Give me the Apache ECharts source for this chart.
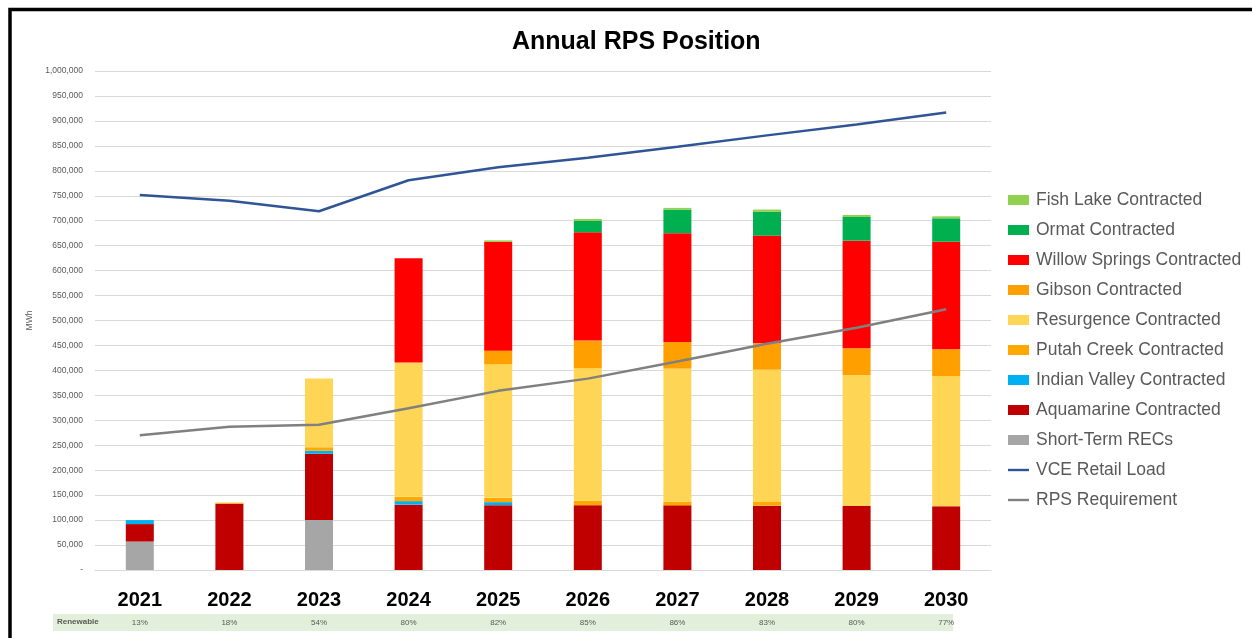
<!DOCTYPE html>
<html>
<head>
<meta charset="utf-8">
<script src="https://cdn.jsdelivr.net/npm/echarts@6/dist/echarts.min.js"></script>
<style>
html,body{margin:0;padding:0;background:#fff;}
#c{width:1252px;height:638px;}
</style>
</head>
<body>
<div id="c"></div>
<script>
const years = ['2021','2022','2023','2024','2025','2026','2027','2028','2029','2030'];
const renewablePct = ['13%','18%','54%','80%','82%','85%','86%','83%','80%','77%'];
const yTicks = { min: 0, max: 1000000, interval: 50000 };

const shortTermRECs = [57000, 0, 100000, 0, 0, 0, 0, 0, 0, 0];
const aquamarine    = [35000, 133000, 133000, 131000, 130000, 130000, 129600, 129000, 128300, 127700];
const indianValley  = [8000, 0, 6000, 7000, 6000, 0, 0, 0, 0, 0];
const putahCreek    = [0, 2000, 7000, 8600, 8600, 8700, 7300, 7400, 0, 0];
const resurgence    = [0, 0, 138000, 269000, 268000, 266000, 266600, 265000, 262500, 261000];
const gibson        = [0, 0, 0, 0, 27000, 55000, 53500, 52800, 53500, 53500];
const willowSprings = [0, 0, 0, 209000, 218000, 217000, 218000, 216000, 215700, 215700];
const ormat         = [0, 0, 0, 0, 0, 22700, 47300, 47400, 47500, 46900];
const fishLake      = [0, 0, 0, 0, 3000, 4000, 3400, 4700, 4000, 4000];

const vceRetailLoad = [751500, 740000, 719000, 781000, 807000, 826000, 848000, 871000, 893000, 917000];
const rpsRequirement = [270000, 287000, 291000, 324000, 359000, 383500, 418000, 453500, 485500, 522500];

const FONT = '"Liberation Sans", Arial, sans-serif';

const barDefs = [
  ['Short-Term RECs', shortTermRECs, '#a6a6a6'],
  ['Aquamarine Contracted', aquamarine, '#c00000'],
  ['Indian Valley Contracted', indianValley, '#00b0f0'],
  ['Putah Creek Contracted', putahCreek, '#ffa800'],
  ['Resurgence Contracted', resurgence, '#ffd555'],
  ['Gibson Contracted', gibson, '#ffa000'],
  ['Willow Springs Contracted', willowSprings, '#ff0000'],
  ['Ormat Contracted', ormat, '#00b050'],
  ['Fish Lake Contracted', fishLake, '#92d050']
];

const series = barDefs.map(([name, data, color]) => ({
  name, type: 'bar', stack: 'rps', data, barWidth: 28,
  itemStyle: { color },
  emphasis: { disabled: true }
}));
series.push({
  name: 'VCE Retail Load', type: 'line', data: vceRetailLoad, symbol: 'none',
  lineStyle: { color: '#2f5597', width: 2.5 }, itemStyle: { color: '#2f5597' }, z: 5
});
series.push({
  name: 'RPS Requirement', type: 'line', data: rpsRequirement, symbol: 'none',
  lineStyle: { color: '#808080', width: 2.5 }, itemStyle: { color: '#808080' }, z: 5
});

const LINE_ICON = 'path://M0,0 M0,3.8 L21,3.8 L21,6.2 L0,6.2 Z M21,10';
const legendOrder = ['Fish Lake Contracted','Ormat Contracted','Willow Springs Contracted','Gibson Contracted',
  'Resurgence Contracted','Putah Creek Contracted','Indian Valley Contracted','Aquamarine Contracted',
  'Short-Term RECs','VCE Retail Load','RPS Requirement'];
const legendData = legendOrder.map(n => (n === 'VCE Retail Load' || n === 'RPS Requirement')
  ? { name: n, icon: LINE_ICON, itemStyle: { borderWidth: 0 } }
  : { name: n, icon: 'rect' });

const chart = echarts.init(document.getElementById('c'), null, { renderer: 'canvas' });
chart.setOption({
  animation: false,
  backgroundColor: '#ffffff',
  title: {
    text: 'Annual RPS Position', left: 512, top: 30, padding: 0,
    textStyle: { fontFamily: FONT, fontSize: 25, fontWeight: 'bold', color: '#000' }
  },
  legend: {
    orient: 'vertical', left: 1008, top: 190, padding: 0,
    itemWidth: 21, itemHeight: 10, itemGap: 10,
    data: legendData,
    textStyle: { fontFamily: FONT, fontSize: 17.5, color: '#595959', lineHeight: 20, padding: [0, 0, 0, 2] }
  },
  grid: { left: 95, right: 261, top: 71, bottom: 68, containLabel: false },
  xAxis: [{
    type: 'category', data: years,
    axisLine: { show: true, lineStyle: { color: '#d9d9d9' } },
    axisTick: { show: false },
    axisLabel: { fontFamily: FONT, fontSize: 20, fontWeight: 'bold', color: '#000', margin: 20 }
  }, {
    type: 'category', data: renewablePct, position: 'bottom', offset: 49,
    axisLine: { show: false }, axisTick: { show: false }, splitLine: { show: false },
    axisLabel: { fontFamily: FONT, fontSize: 8, color: '#595959', margin: 0 }
  }],
  yAxis: {
    type: 'value', min: yTicks.min, max: yTicks.max, interval: yTicks.interval,
    name: 'MWh', nameLocation: 'middle', nameGap: 57, nameRotate: 90,
    nameTextStyle: { fontFamily: FONT, fontSize: 8.5, color: '#595959' },
    axisLine: { show: false }, axisTick: { show: false },
    splitLine: { lineStyle: { color: '#d9d9d9', width: 1 } },
    axisLabel: {
      fontFamily: FONT, fontSize: 8.5, color: '#595959', margin: 12,
      formatter: v => v === 0 ? '-' : v.toLocaleString('en-US')
    }
  },
  series,
  graphic: [
    { type: 'rect', z: -10, shape: { x: 53, y: 614, width: 900, height: 17 }, style: { fill: '#e2efda' } },
    { type: 'text', z: 10, x: 57, y: 622, style: { text: 'Renewable', font: 'bold 8px ' + FONT, fill: '#595959', verticalAlign: 'middle' } },
    { type: 'rect', z: 100, shape: { x: 10, y: 9.5, width: 1250, height: 640 }, style: { fill: 'none', stroke: '#000', lineWidth: 3.5 } }
  ]
});
</script>
</body>
</html>
